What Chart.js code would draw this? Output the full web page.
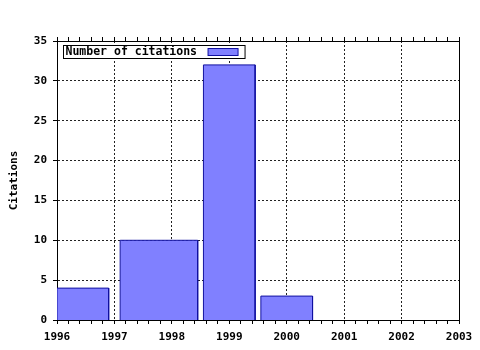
<!DOCTYPE html>
<html>
<head>
<meta charset="utf-8">
<script src="https://cdn.jsdelivr.net/npm/chart.js@4"></script>
<style>
  html, body { margin: 0; padding: 0; background: #ffffff; }
  #wrap { width: 480px; height: 350px; }
</style>
</head>
<body>
<div id="wrap"><canvas id="c" width="480" height="350"></canvas></div>
<script>
// ---- data ----
const seriesLabel = 'Number of citations';
const barStart = [1996, 1997.1, 1998.55, 1999.55];
const barEnd   = [1996.9, 1998.45, 1999.45, 2000.45];
const citations = [4, 10, 32, 3];
const xMin = 1996, xMax = 2003, xMinorStep = 0.2;
const yMin = 0, yMax = 35, yStep = 5;
const yTitle = 'Citations';

const FONT_FAMILY = '"DejaVu Sans Mono", "Liberation Mono", monospace';
const fillColor = '#8080ff';
const edgeColor = '#1010a0';

const datasets = citations.map((v, i) => ({
  label: seriesLabel,
  data: [
    {x: barStart[i], y: 0},
    {x: barStart[i], y: v},
    {x: barEnd[i], y: v},
    {x: barEnd[i], y: 0}
  ],
  showLine: true,
  fill: 'origin',
  backgroundColor: fillColor,
  borderColor: edgeColor,
  borderWidth: 1,
  pointRadius: 0,
  pointHoverRadius: 0,
  tension: 0
}));

const isMajor = v => Math.abs(v - Math.round(v)) < 1e-6;

const legendPlugin = {
  id: 'insideLegend',
  afterDraw(chart) {
    const ctx = chart.ctx;
    const a = chart.chartArea;
    const ds = chart.data.datasets[0];
    ctx.save();
    ctx.font = 'bold 11.5px ' + FONT_FAMILY;
    const tw = ctx.measureText(ds.label).width;
    const bx = a.left + 6.5, by = a.top + 4.5;
    const swW = 30, swH = 7;
    const bw = 3 + tw + 10 + swW + 7, bh = 13;
    ctx.fillStyle = '#ffffff';
    ctx.fillRect(bx, by, bw, bh);
    ctx.strokeStyle = '#000000';
    ctx.lineWidth = 1;
    ctx.strokeRect(bx, by, bw, bh);
    ctx.fillStyle = '#000000';
    ctx.textBaseline = 'middle';
    ctx.textAlign = 'left';
    ctx.fillText(ds.label, bx + 2, by + bh / 2 + 0.5);
    const sx = bx + 3 + tw + 10;
    ctx.fillStyle = ds.backgroundColor;
    ctx.fillRect(sx, by + 3, swW, swH);
    ctx.strokeStyle = ds.borderColor;
    ctx.strokeRect(sx, by + 3, swW, swH);
    ctx.restore();
  }
};

const tickFont = {family: FONT_FAMILY, size: 11, weight: 'bold'};

new Chart(document.getElementById('c'), {
  type: 'scatter',
  data: { datasets },
  plugins: [legendPlugin],
  options: {
    responsive: false,
    animation: false,
    events: [],
    layout: { padding: 0 },
    plugins: { legend: { display: false }, tooltip: { enabled: false } },
    scales: {
      x: {
        type: 'linear', position: 'bottom',
        min: xMin, max: xMax,
        ticks: {
          stepSize: xMinorStep, autoSkip: false, maxRotation: 0,
          color: '#000', font: tickFont, padding: 7,
          callback: v => isMajor(v) ? String(Math.round(v)) : ''
        },
        grid: {
          color: c => (c.tick && isMajor(c.tick.value)) ? '#222222' : 'rgba(0,0,0,0)',
          tickColor: '#000000', tickLength: 4, lineWidth: 1
        },
        border: { display: true, color: '#000000', width: 1, dash: [2, 2] },
        afterFit: s => { s.height = 30; }
      },
      x2: {
        type: 'linear', position: 'top',
        min: xMin, max: xMax,
        ticks: { stepSize: xMinorStep, autoSkip: false, maxRotation: 0, callback: () => '' },
        grid: { drawOnChartArea: false, color: '#000000', tickColor: '#000000', tickLength: 4 },
        border: { display: true, color: '#000000', width: 1 },
        afterFit: s => { s.height = 41; }
      },
      y: {
        type: 'linear', position: 'left',
        min: yMin, max: yMax,
        ticks: { stepSize: yStep, color: '#000', font: tickFont, padding: 6 },
        grid: { color: '#222222', tickColor: '#000000', tickLength: 4, lineWidth: 1 },
        border: { display: true, color: '#000000', width: 1, dash: [2, 2] },
        title: { display: true, text: yTitle, color: '#000', font: tickFont, padding: {top: 8, bottom: 0} },
        afterFit: s => { s.width = 57; }
      },
      y2: {
        type: 'linear', position: 'right',
        min: yMin, max: yMax,
        ticks: { display: false },
        grid: { display: false },
        border: { display: true, color: '#000000', width: 1 },
        afterFit: s => { s.width = 21; }
      }
    }
  }
});
</script>
</body>
</html>
